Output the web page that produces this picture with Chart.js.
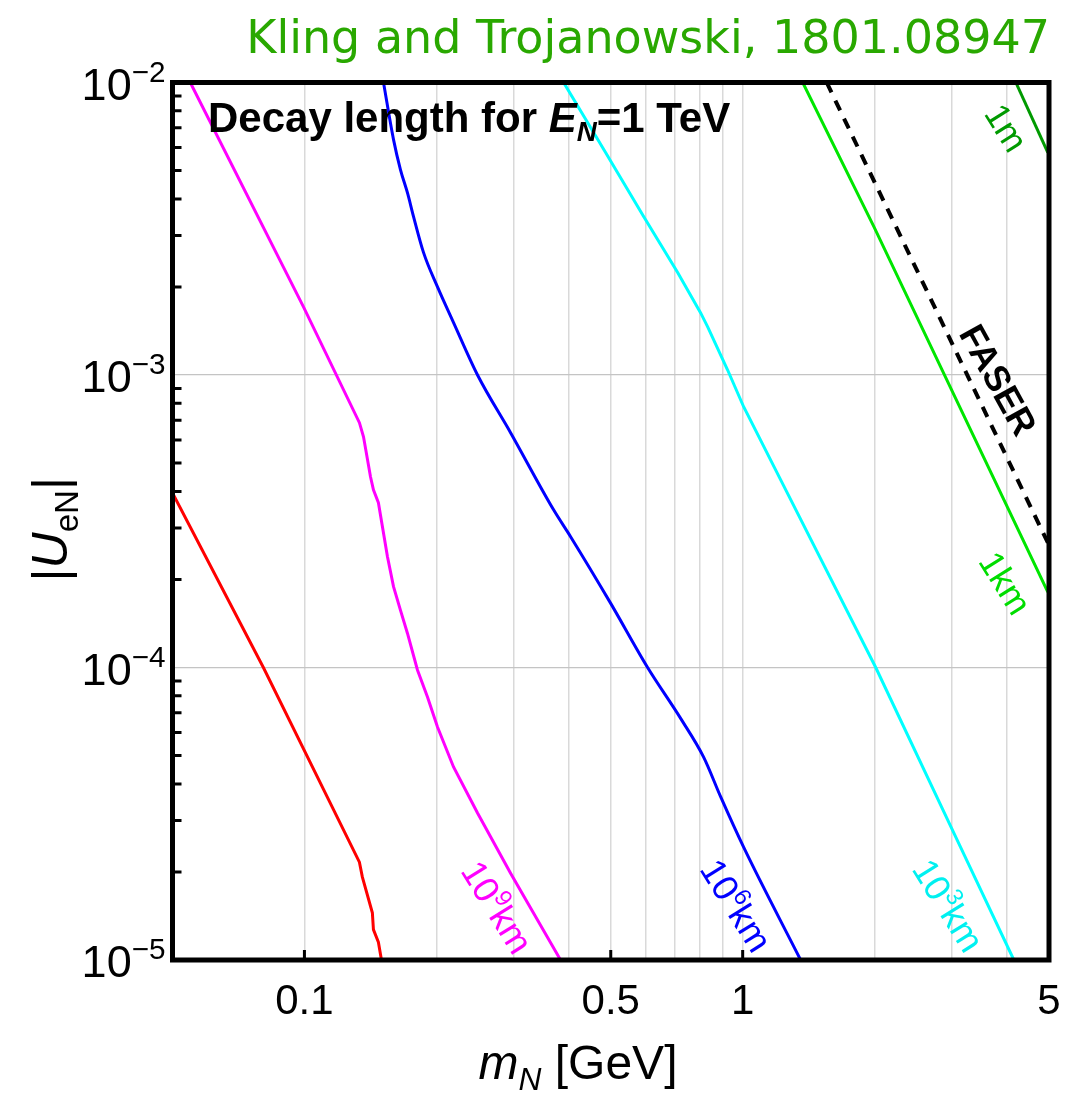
<!DOCTYPE html>
<html>
<head>
<meta charset="utf-8">
<script src="https://cdn.jsdelivr.net/npm/chart.js@4.4.1/dist/chart.umd.min.js"></script>
<style>
  html, body { margin: 0; padding: 0; background: #fff; }
  #wrap { width: 1078px; height: 1094px; position: relative; }
</style>
</head>
<body>
<div id="wrap"><canvas id="graficaDecay"></canvas></div>
<script>
// decay-length contours: heavy neutral lepton mass m_N [GeV] vs mixing |U_eN|
const redMass = [0.050, 0.0806, 0.1335, 0.1356, 0.1429, 0.1437, 0.1475, 0.1499];
const redU    = [3.95e-4, 1.00e-4, 2.16e-5, 1.92e-5, 1.45e-5, 1.27e-5, 1.15e-5, 1.0e-5];

const magentaMass = [0.0549, 0.0995, 0.1335, 0.1364, 0.1415, 0.1437, 0.1475, 0.1547, 0.1597,
                     0.1656, 0.1718, 0.1811, 0.1909, 0.2012, 0.2189, 0.2483, 0.2954, 0.3841];
const magentaU    = [1.0e-2, 1.71e-3, 6.87e-4, 6.15e-4, 4.49e-4, 4.05e-4, 3.66e-4, 2.39e-4, 1.89e-4,
                     1.57e-4, 1.31e-4, 9.81e-5, 7.93e-5, 6.26e-5, 4.57e-5, 3.18e-5, 1.98e-5, 1.0e-5];

const blueMass = [0.1515, 0.1597, 0.1656, 0.1718, 0.1774, 0.1870, 0.2012, 0.2189, 0.2483, 0.2954,
                  0.3703, 0.4049, 0.4995, 0.6068, 0.7218, 0.8145, 0.891, 1.005, 1.356];
const blueU    = [1.0e-2, 6.38e-3, 5.04e-3, 4.20e-3, 3.48e-3, 2.62e-3, 2.00e-3, 1.51e-3, 1.00e-3, 6.35e-4,
                  3.46e-4, 2.80e-4, 1.66e-4, 1.00e-4, 6.7e-5, 4.94e-5, 3.61e-5, 2.43e-5, 1.0e-5];

const cyanMass = [0.3903, 0.4866, 0.5943, 0.7106, 0.8019, 0.832, 0.924, 1.005, 1.221, 2.012, 3.032, 4.157];
const cyanU    = [1.0e-2, 5.76e-3, 3.48e-3, 2.24e-3, 1.63e-3, 1.46e-3, 1.04e-3, 7.79e-4, 4.38e-4, 1.0e-4, 2.72e-5, 1.0e-5];

const greenMass = [1.371, 1.991, 4.97];
const greenU    = [1.0e-2, 3.22e-3, 1.81e-4];

const darkGreenMass = [4.201, 4.97];
const darkGreenU    = [1.0e-2, 5.76e-3];

const faserMass = [1.555, 4.97];
const faserU    = [1.0e-2, 2.67e-4];

// axes
const xGridValues = [0.1, 0.2, 0.3, 0.4, 0.5, 0.6, 0.7, 0.8, 0.9, 1, 2, 3, 4];
const yGridValues = [1e-4, 1e-3];
const xTickValues = [0.1, 0.5, 1, 5];
const xTickLabels = ['0.1', '0.5', '1', '5'];
const xMarkValues = [0.1, 0.5, 1];
const yTickValues = [1e-5, 1e-4, 1e-3, 1e-2];
const yTickExps   = ['\u22125', '\u22124', '\u22123', '\u22122'];

// contour labels
const contourLabels = [
  [{ t: '10' }, { t: '9', sup: true }, { t: 'km' }],
  [{ t: '10' }, { t: '6', sup: true }, { t: 'km' }],
  [{ t: '10' }, { t: '3', sup: true }, { t: 'km' }],
  [{ t: '1km' }],
  [{ t: '1m' }],
  [{ t: 'FASER', bold: true }]
];
const labelMass = [0.2759, 0.969, 2.953, 3.985, 4.005, 3.84];
const labelU    = [1.52e-5, 1.54e-5, 1.54e-5, 1.95e-4, 7.02e-3, 9.64e-4];
const labelColors = ['#ff00ff', '#0000ff', '#00f0f0', '#00dd00', '#009a00', '#000000'];
const labelAngles = [58, 58, 58, 58, 58, 61];
const labelSizes  = [36, 36, 36, 35, 35, 36];

const FAMILY = "'Liberation Sans', Arial, Helvetica, sans-serif";

function pts(xs, ys) {
  return xs.map((x, i) => ({ x: x, y: ys[i] }));
}

function fontOf(p, size) {
  const sz = (p.sub || p.sup) ? size * 0.66 : size;
  return (p.italic ? 'italic ' : '') + (p.bold ? 'bold ' : '') + sz.toFixed(1) + 'px ' + FAMILY;
}

function richWidth(ctx, parts, size) {
  let w = 0;
  parts.forEach(p => { ctx.font = fontOf(p, size); w += ctx.measureText(p.t).width; });
  return w;
}

// draws a run of text pieces with sub/superscripts on one baseline
function drawRich(ctx, parts, x, y, size, align) {
  const w = richWidth(ctx, parts, size);
  let cx = align === 'center' ? x - w / 2 : align === 'right' ? x - w : x;
  ctx.textAlign = 'left';
  ctx.textBaseline = 'alphabetic';
  parts.forEach(p => {
    ctx.font = fontOf(p, size);
    const dy = p.sup ? -size * 0.4 : p.sub ? size * 0.22 : 0;
    ctx.fillText(p.t, cx, y + dy);
    cx += ctx.measureText(p.t).width;
  });
}

const framePlugin = {
  id: 'framePlugin',
  afterDraw(chart) {
    const ctx = chart.ctx;
    const a = chart.chartArea;
    const xs = chart.scales.x, ys = chart.scales.y;
    ctx.save();

    // inward ticks on the left and bottom axes
    ctx.strokeStyle = '#000';
    ctx.lineWidth = 3;
    ctx.beginPath();
    for (let k = -5; k < -2; k++) {
      for (let m = 2; m <= 9; m++) {
        const py = ys.getPixelForValue(m * Math.pow(10, k));
        ctx.moveTo(a.left, py);
        ctx.lineTo(a.left + 9, py);
      }
    }
    xMarkValues.forEach(v => {
      const px = xs.getPixelForValue(v);
      ctx.moveTo(px, a.bottom);
      ctx.lineTo(px, a.bottom - 10);
    });
    ctx.stroke();

    // frame
    ctx.lineWidth = 5;
    ctx.strokeRect(a.left, a.top, a.right - a.left, a.bottom - a.top);

    // tick labels
    ctx.fillStyle = '#000';
    xTickValues.forEach((v, i) => {
      drawRich(ctx, [{ t: xTickLabels[i] }], xs.getPixelForValue(v), a.bottom + 54, 42, 'center');
    });
    yTickValues.forEach((v, i) => {
      const py = ys.getPixelForValue(v);
      drawRich(ctx, [{ t: '10' }, { t: yTickExps[i], sup: true }], a.left - 7, py + 17, 45, 'right');
    });

    // axis titles
    drawRich(ctx, [{ t: 'm', italic: true }, { t: 'N', italic: true, sub: true }, { t: ' [GeV]' }],
      578, 1079, 48, 'center');
    ctx.save();
    ctx.translate(67, (a.top + a.bottom) / 2 + 8);
    ctx.rotate(-Math.PI / 2);
    drawRich(ctx, [{ t: '|' }, { t: 'U', italic: true }, { t: 'eN', sub: true }, { t: '|' }], 0, 0, 50, 'center');
    ctx.restore();

    // panel text
    drawRich(ctx, [{ t: 'Decay length for ', bold: true }, { t: 'E', bold: true, italic: true },
      { t: 'N', bold: true, italic: true, sub: true }, { t: '=1 TeV', bold: true }], 208, 132, 42, 'left');

    // contour labels
    contourLabels.forEach((parts, i) => {
      const px = xs.getPixelForValue(labelMass[i]);
      const py = ys.getPixelForValue(labelU[i]);
      ctx.save();
      ctx.translate(px, py);
      ctx.rotate(labelAngles[i] * Math.PI / 180);
      ctx.fillStyle = labelColors[i];
      drawRich(ctx, parts, 0, labelSizes[i] * 0.36, labelSizes[i], 'center');
      ctx.restore();
    });

    // citation
    ctx.fillStyle = '#29a800';
    ctx.font = "46px 'Comic Sans MS', 'DejaVu Sans', sans-serif";
    ctx.textAlign = 'right';
    ctx.textBaseline = 'alphabetic';
    ctx.fillText('Kling and Trojanowski, 1801.08947', 1050, 53);
    ctx.restore();
  }
};

function line(data, color, extra) {
  return Object.assign({
    data: data,
    borderColor: color,
    borderWidth: 3,
    pointRadius: 0,
    showLine: true,
    fill: false,
    tension: 0
  }, extra || {});
}

new Chart(document.getElementById('graficaDecay'), {
  type: 'scatter',
  data: {
    datasets: [
      line(pts(redMass, redU), '#ff0000'),
      line(pts(magentaMass, magentaU), '#ff00ff'),
      line(pts(blueMass, blueU), '#0000ff', { cubicInterpolationMode: 'monotone' }),
      line(pts(cyanMass, cyanU), '#00ffff'),
      line(pts(greenMass, greenU), '#00e600'),
      line(pts(darkGreenMass, darkGreenU), '#009a00'),
      line(pts(faserMass, faserU), '#000000', { borderWidth: 4, borderDash: [11, 9] })
    ]
  },
  options: {
    responsive: true,
    maintainAspectRatio: false,
    animation: false,
    events: [],
    layout: {
      autoPadding: false,
      padding: { left: 172.5, right: 29, top: 82.5, bottom: 134 }
    },
    plugins: {
      legend: { display: false },
      tooltip: { enabled: false }
    },
    scales: {
      x: {
        type: 'logarithmic',
        min: 0.05,
        max: 5,
        afterBuildTicks: s => { s.ticks = xGridValues.map(v => ({ value: v })); },
        ticks: { display: false },
        border: { display: false },
        grid: { color: '#d9d9d9', lineWidth: 1.5, drawTicks: false }
      },
      y: {
        type: 'logarithmic',
        min: 1e-5,
        max: 1e-2,
        afterBuildTicks: s => { s.ticks = yGridValues.map(v => ({ value: v })); },
        ticks: { display: false },
        border: { display: false },
        grid: { color: '#c4c4c4', lineWidth: 1.3, drawTicks: false }
      }
    }
  },
  plugins: [framePlugin]
});
</script>
</body>
</html>
